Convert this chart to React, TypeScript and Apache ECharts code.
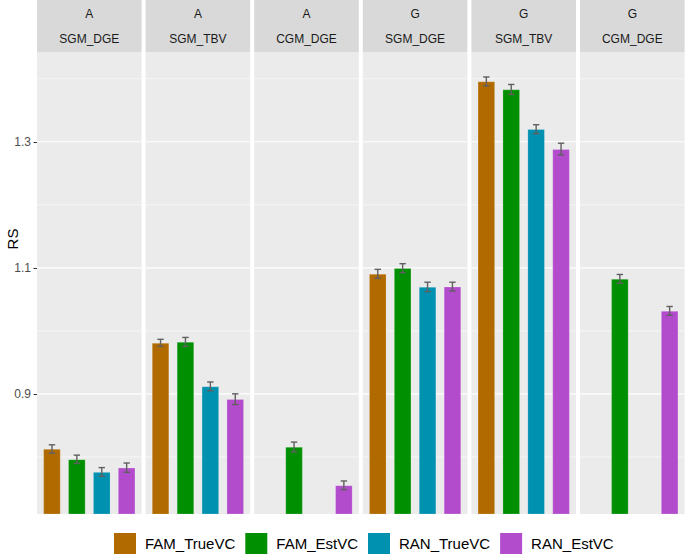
import React, { useEffect, useRef } from "react";
import * as echarts from "echarts";

const methods = ["FAM_TrueVC", "FAM_EstVC", "RAN_TrueVC", "RAN_EstVC"];
const methodColors = ["#B06A00", "#008F00", "#0090B0", "#B24CCC"];
const facetTrait = ["A", "A", "A", "G", "G", "G"];
const facetModel = ["SGM_DGE", "SGM_TBV", "CGM_DGE", "SGM_DGE", "SGM_TBV", "CGM_DGE"];

// RS means per panel (null = no bar)
const famTrueVC = [0.8127, 0.981, null, 1.0905, 1.3957, null];
const famEstVC = [0.7963, 0.9825, 0.8159, 1.0995, 1.383, 1.0825];
const ranTrueVC = [0.7762, 0.912, null, 1.0698, 1.32, null];
const ranEstVC = [0.783, 0.8916, 0.755, 1.0703, 1.2884, 1.0317];

// half-widths of error bars
const famTrueErr = [0.0066, 0.0056, null, 0.0071, 0.0071, null];
const famEstErr = [0.0066, 0.0071, 0.0077, 0.0071, 0.0079, 0.007];
const ranTrueErr = [0.0069, 0.0069, null, 0.0074, 0.0071, null];
const ranEstErr = [0.0074, 0.0085, 0.0069, 0.0069, 0.0093, 0.007];

const yTicks = [0.9, 1.1, 1.3];
const yMinor = [0.8, 1.0, 1.2, 1.4];

const Y_MIN = 0.7095;
const Y_MAX = 1.4424;

const FONT = "'Liberation Sans', Arial, sans-serif";

export default function App() {
  const ref = useRef<HTMLDivElement>(null);

  useEffect(() => {
    document.body.style.margin = "0";
    if (!ref.current) return;
    const chart = echarts.init(ref.current, null, { renderer: "svg" });

    const means = [famTrueVC, famEstVC, ranTrueVC, ranEstVC];
    const errs = [famTrueErr, famEstErr, ranTrueErr, ranEstErr];

    const panelLeft0 = 37;
    const panelStep = 108.6;
    const panelW = 104.6;
    const panelTop = 52;
    const panelH = 462;

    const grids: any[] = [];
    const xAxes: any[] = [];
    const yAxes: any[] = [];
    const series: any[] = [];
    const graphics: any[] = [];

    for (let p = 0; p < 6; p++) {
      const left = panelLeft0 + p * panelStep;
      grids.push({
        left,
        top: panelTop,
        width: panelW,
        height: panelH,
        show: true,
        backgroundColor: "#EBEBEB",
        borderWidth: 0,
        containLabel: false,
      });
      xAxes.push({
        type: "value",
        gridIndex: p,
        min: 0.4,
        max: 4.6,
        show: false,
      });
      yAxes.push({
        type: "value",
        gridIndex: p,
        min: Y_MIN,
        max: Y_MAX,
        show: p === 0,
        splitLine: { show: false },
        axisLine: { show: false },
        axisTick: {
          show: true,
          length: 3.5,
          lineStyle: { color: "#333333", width: 1 },
          customValues: yTicks,
        },
        axisLabel: {
          show: true,
          margin: 6,
          fontSize: 12,
          color: "#4D4D4D",
          fontFamily: FONT,
          customValues: yTicks,
          formatter: (v: number) => v.toFixed(1),
        },
      });

      // grid lines
      const gridData: any[] = [];
      yTicks.forEach((v) => gridData.push([2.5, v, 1]));
      yMinor.forEach((v) => gridData.push([2.5, v, 0]));
      series.push({
        type: "custom",
        xAxisIndex: p,
        yAxisIndex: p,
        z: 1,
        silent: true,
        data: gridData,
        encode: { x: 0, y: 1 },
        renderItem: (params: any, api: any) => {
          const cs = params.coordSys;
          const y = api.coord([2.5, api.value(1)])[1];
          const major = api.value(2) === 1;
          return {
            type: "line",
            shape: { x1: cs.x, y1: y, x2: cs.x + cs.width, y2: y },
            style: { stroke: "#FFFFFF", lineWidth: major ? 1.1 : 0.55 },
          };
        },
      });

      // bars
      const barData: any[] = [];
      const errData: any[] = [];
      for (let m = 0; m < 4; m++) {
        const v = means[m][p];
        if (v === null || v === undefined) continue;
        barData.push({
          value: [m + 1, v],
          itemStyle: { color: methodColors[m] },
        });
        errData.push([m + 1, v, errs[m][p] as number]);
      }
      series.push({
        type: "bar",
        xAxisIndex: p,
        yAxisIndex: p,
        z: 2,
        barWidth: 17.4,
        clip: true,
        silent: true,
        itemStyle: { borderColor: "rgba(255,255,255,0.25)", borderWidth: 0.8 },
        data: barData,
      });
      series.push({
        type: "custom",
        xAxisIndex: p,
        yAxisIndex: p,
        z: 3,
        silent: true,
        data: errData,
        encode: { x: 0, y: 1 },
        renderItem: (params: any, api: any) => {
          const x = api.value(0);
          const mean = api.value(1);
          const e = api.value(2);
          const top = api.coord([x, mean + e]);
          const bot = api.coord([x, mean - e]);
          const hw = 3.2;
          const st = { stroke: "#606060", lineWidth: 1.4 };
          return {
            type: "group",
            children: [
              { type: "line", shape: { x1: top[0], y1: top[1], x2: bot[0], y2: bot[1] }, style: st },
              { type: "line", shape: { x1: top[0] - hw, y1: top[1], x2: top[0] + hw, y2: top[1] }, style: st },
              { type: "line", shape: { x1: bot[0] - hw, y1: bot[1], x2: bot[0] + hw, y2: bot[1] }, style: st },
            ],
          };
        },
      });

      // strip
      graphics.push({
        type: "rect",
        shape: { x: left, y: 0, width: panelW, height: panelTop },
        style: { fill: "#D9D9D9" },
        silent: true,
      });
      graphics.push({
        type: "text",
        x: left + panelW / 2,
        y: 14,
        style: {
          text: facetTrait[p],
          fill: "#1A1A1A",
          font: `12px ${FONT}`,
          align: "center",
          verticalAlign: "middle",
        },
        silent: true,
      });
      graphics.push({
        type: "text",
        x: left + panelW / 2,
        y: 39,
        style: {
          text: facetModel[p],
          fill: "#1A1A1A",
          font: `12px ${FONT}`,
          align: "center",
          verticalAlign: "middle",
        },
        silent: true,
      });
    }

    // dummy series for legend
    methods.forEach((name, m) => {
      series.push({
        type: "line",
        name,
        xAxisIndex: 0,
        yAxisIndex: 0,
        data: [],
        itemStyle: { color: methodColors[m] },
        lineStyle: { color: methodColors[m] },
      });
    });

    graphics.push({
      type: "text",
      x: 12,
      y: 239,
      rotation: Math.PI / 2,
      style: {
        text: "RS",
        fill: "#000000",
        font: `15px ${FONT}`,
        align: "center",
        verticalAlign: "middle",
      },
      silent: true,
    });

    chart.setOption({
      animation: false,
      grid: grids,
      xAxis: xAxes,
      yAxis: yAxes,
      series,
      graphic: graphics,
      legend: {
        left: 114,
        top: 533,
        padding: 0,
        icon: "rect",
        itemWidth: 22,
        itemHeight: 21,
        itemGap: 10,
        selectedMode: false,
        data: methods.map((name, m) => ({
          name,
          itemStyle: { color: methodColors[m], borderWidth: 0 },
        })),
        textStyle: {
          fontSize: 15,
          color: "#000000",
          fontFamily: FONT,
          padding: [0, 0, 0, 4],
        },
      },
    });

    return () => chart.dispose();
  }, []);

  return <div ref={ref} style={{ width: 685, height: 556 }} />;
}
